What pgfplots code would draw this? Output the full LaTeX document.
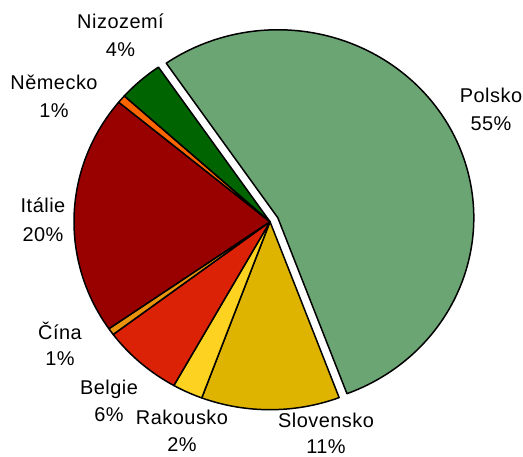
\documentclass[border=0pt]{standalone}
\usepackage{pgfplots}
\pgfplotsset{compat=1.18}
\usepackage{fontspec}
\setmainfont{Liberation Sans}[LetterSpace=2.5]
\definecolor{cPol}{RGB}{108,165,116}
\definecolor{cSlo}{RGB}{222,180,0}
\definecolor{cRak}{RGB}{253,210,32}
\definecolor{cBel}{RGB}{220,34,6}
\definecolor{cCin}{RGB}{232,148,12}
\definecolor{cIta}{RGB}{153,0,0}
\definecolor{cNem}{RGB}{255,102,0}
\definecolor{cNiz}{RGB}{0,100,0}
% #1 percent, #2 colour, #3 explode fraction
\newcommand\slice[3]{%
  \pgfmathsetmacro\ea{\cur}%
  \pgfmathsetmacro\sa{\cur-3.6*#1}%
  \pgfmathsetmacro\ma{(\sa+\ea)/2}%
  \pgfmathsetmacro\ox{270+#3*196*cos(\ma)}%
  \pgfmathsetmacro\oy{235.3+#3*188*sin(\ma)}%
  \edef\temp{\noexpand\addplot[fill=#2, draw=black, line width=1.5pt, line join=round, domain=\sa:\ea, samples=150, variable=\noexpand\u] ({\ox+196*cos(\noexpand\u)}, {\oy+188*sin(\noexpand\u)}) -- (axis cs:\ox,\oy) -- cycle;}%
  \temp
  \xdef\cur{\sa}%
}
\newcommand\lab[5]{% x, baseline1, baseline2, name, pct
  \node[anchor=base, inner sep=0pt, font=\fontsize{20}{24}\selectfont] at (axis cs:#1,#2) {#4};
  \node[anchor=base, inner sep=0pt, font=\fontsize{20}{24}\selectfont] at (axis cs:#1,#3) {#5};
}
\begin{document}
\begin{tikzpicture}
\begin{axis}[
  x=1bp, y=1bp, xmin=0, xmax=523, ymin=0, ymax=457,
  scale only axis, hide axis, clip=false]
\path (axis cs:0,0) rectangle (axis cs:523,457);
\xdef\cur{124.7}
\slice{53.9}{cPol}{0.045}
\slice{11.4}{cSlo}{0}
\slice{2.5}{cRak}{0}
\slice{6.6}{cBel}{0}
\slice{0.6}{cCin}{0}
\slice{20.6}{cIta}{0}
\slice{0.7}{cNem}{0}
\slice{3.7}{cNiz}{0}
\lab{120.5}{428}{400}{Nizozemí}{4\%}
\lab{54}{367}{339}{Německo}{1\%}
\lab{43}{244}{215}{Itálie}{20\%}
\lab{60}{117}{91}{Čína}{1\%}
\lab{109}{62}{35}{Belgie}{6\%}
\lab{182}{32}{5}{Rakousko}{2\%}
\lab{326}{29}{3.5}{Slovensko}{11\%}
\lab{491}{354}{326}{Polsko}{55\%}
\end{axis}
\end{tikzpicture}
\end{document}
